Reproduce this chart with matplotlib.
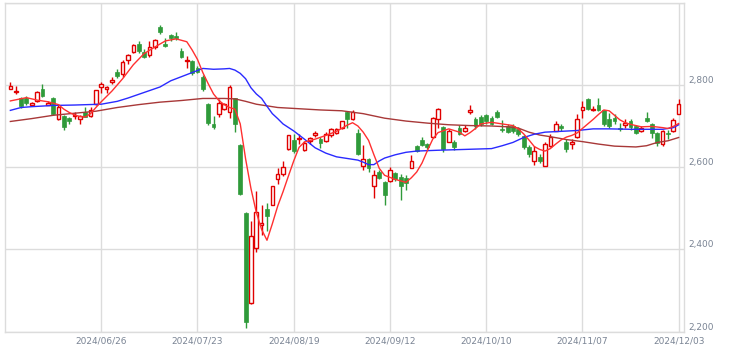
import matplotlib
matplotlib.use("Agg")
import matplotlib.pyplot as plt
import numpy as np

# daily candles (index 0 = first visible day)
opens = [2791, 2783, 2769, 2767, 2750, 2760, 2789, 2752, 2768, 2716,
         2724, 2720, 2724, 2718, 2734, 2724, 2753, 2794, 2791, 2808,
         2832, 2826, 2860, 2879, 2899, 2879, 2872, 2891, 2940, 2899,
         2921, 2920, 2882, 2857, 2858, 2840, 2820, 2754, 2706, 2730,
         2741, 2733, 2767, 2654, 2489, 2269, 2402, 2460, 2497, 2509,
         2570, 2582, 2643, 2665, 2668, 2641, 2663, 2678, 2669, 2663,
         2678, 2682, 2694, 2733, 2716, 2684, 2602, 2619, 2554, 2588,
         2563, 2567, 2585, 2576, 2573, 2598, 2651, 2666, 2655, 2673,
         2716, 2697, 2661, 2661, 2694, 2687, 2734, 2716, 2722, 2727,
         2720, 2734, 2693, 2700, 2700, 2692, 2675, 2649, 2614, 2624,
         2602, 2651, 2689, 2700, 2662, 2655, 2673, 2739, 2765, 2740,
         2751, 2738, 2716, 2720, 2695, 2703, 2712, 2699, 2688, 2720,
         2704, 2683, 2655, 2684, 2688, 2729]
highs = [2808, 2797, 2771, 2773, 2758, 2785, 2802, 2760, 2770, 2753,
         2726, 2722, 2734, 2726, 2746, 2746, 2788, 2806, 2797, 2820,
         2838, 2860, 2876, 2899, 2907, 2887, 2906, 2912, 2946, 2913,
         2925, 2928, 2890, 2871, 2861, 2845, 2825, 2757, 2724, 2765,
         2757, 2800, 2769, 2655, 2491, 2470, 2541, 2507, 2513, 2553,
         2598, 2616, 2678, 2680, 2680, 2663, 2673, 2687, 2673, 2685,
         2695, 2695, 2713, 2736, 2738, 2692, 2653, 2622, 2594, 2593,
         2566, 2601, 2589, 2582, 2580, 2630, 2654, 2673, 2658, 2723,
         2744, 2700, 2692, 2666, 2703, 2702, 2751, 2721, 2726, 2730,
         2724, 2740, 2714, 2705, 2705, 2697, 2679, 2653, 2651, 2631,
         2661, 2680, 2711, 2704, 2668, 2668, 2728, 2762, 2767, 2748,
         2769, 2740, 2731, 2728, 2708, 2716, 2716, 2702, 2700, 2733,
         2707, 2685, 2690, 2690, 2719, 2765]
lows = [2789, 2777, 2744, 2750, 2748, 2758, 2770, 2750, 2727, 2714,
        2690, 2706, 2717, 2704, 2721, 2722, 2752, 2781, 2781, 2802,
        2816, 2819, 2850, 2877, 2877, 2865, 2868, 2888, 2924, 2891,
        2906, 2910, 2865, 2842, 2825, 2828, 2786, 2702, 2692, 2722,
        2739, 2719, 2685, 2533, 2208, 2268, 2393, 2436, 2444, 2507,
        2559, 2578, 2642, 2635, 2656, 2639, 2656, 2673, 2647, 2661,
        2673, 2680, 2692, 2696, 2714, 2630, 2592, 2587, 2525, 2570,
        2507, 2564, 2566, 2519, 2545, 2598, 2636, 2651, 2643, 2670,
        2694, 2636, 2660, 2642, 2678, 2685, 2728, 2692, 2700, 2705,
        2702, 2719, 2685, 2683, 2683, 2675, 2643, 2624, 2605, 2611,
        2602, 2648, 2687, 2688, 2637, 2645, 2672, 2719, 2739, 2736,
        2736, 2700, 2696, 2704, 2688, 2696, 2690, 2680, 2685, 2710,
        2670, 2652, 2651, 2669, 2686, 2729]
closes = [2797, 2786, 2748, 2755, 2756, 2783, 2773, 2755, 2730, 2746,
          2698, 2712, 2727, 2724, 2723, 2739, 2787, 2802, 2794, 2811,
          2822, 2856, 2873, 2897, 2883, 2867, 2893, 2909, 2928, 2895,
          2913, 2915, 2867, 2861, 2828, 2832, 2789, 2708, 2698, 2757,
          2753, 2795, 2704, 2535, 2224, 2433, 2490, 2463, 2482, 2553,
          2582, 2600, 2677, 2639, 2671, 2659, 2671, 2684, 2659, 2680,
          2692, 2692, 2711, 2716, 2733, 2633, 2620, 2598, 2580, 2574,
          2531, 2592, 2570, 2555, 2562, 2616, 2639, 2654, 2649, 2720,
          2741, 2645, 2689, 2649, 2681, 2696, 2739, 2700, 2706, 2711,
          2706, 2723, 2690, 2686, 2688, 2680, 2648, 2633, 2638, 2616,
          2657, 2673, 2704, 2696, 2643, 2662, 2716, 2745, 2742, 2742,
          2738, 2704, 2701, 2712, 2693, 2708, 2697, 2682, 2696, 2713,
          2683, 2658, 2688, 2680, 2714, 2753]

date_ticks = [17, 35, 53, 71, 89, 107, 125]
date_labels = ["2024/06/26", "2024/07/23", "2024/08/19", "2024/09/12",
               "2024/10/10", "2024/11/07", "2024/12/03"]
price_ticks = [2200, 2400, 2600, 2800]

# moving average lines, read at sampled candles
ma_short_idx = [0, 3, 5, 7, 9, 10, 11, 12, 13, 14, 15, 16, 17, 19, 21, 23, 25,
                27, 29, 31, 33, 34, 35, 36, 37, 38, 39, 40, 41, 42, 43, 44, 45,
                46, 47, 48, 49, 50, 51, 52, 53, 54, 55, 57, 59, 61, 63, 64, 65,
                66, 67, 68, 69, 70, 72, 74, 75, 76, 77, 78, 79, 80, 82, 84, 85,
                86, 87, 88, 90, 92, 94, 95, 96, 97, 98, 99, 100, 101, 102, 103,
                104, 105, 106, 107, 108, 109, 110, 111, 112, 113, 114, 115, 116,
                118, 120, 122, 123, 124, 125]
ma_short = [2761, 2769, 2763, 2759, 2752, 2741, 2733, 2727, 2723, 2722, 2730,
            2745, 2759, 2785, 2815, 2849, 2876, 2892, 2907, 2912, 2905, 2885,
            2862, 2830, 2803, 2778, 2762, 2752, 2745, 2741, 2705, 2620, 2548,
            2490, 2448, 2422, 2462, 2505, 2540, 2578, 2615, 2648, 2661, 2668,
            2677, 2687, 2702, 2708, 2700, 2685, 2665, 2630, 2597, 2580, 2570,
            2563, 2574, 2588, 2610, 2640, 2668, 2684, 2693, 2685, 2676, 2684,
            2694, 2705, 2709, 2705, 2701, 2693, 2681, 2666, 2650, 2643, 2639,
            2645, 2656, 2666, 2673, 2677, 2683, 2694, 2705, 2716, 2728, 2739,
            2737, 2726, 2715, 2708, 2704, 2698, 2699, 2696, 2694, 2699, 2706]

ma_mid_idx = [0, 2, 4, 8, 12, 17, 20, 22, 24, 26, 28, 30, 32, 34, 36, 38, 40,
              41, 42, 43, 44, 45, 46, 47, 48, 49, 50, 51, 53, 55, 57, 59, 61,
              63, 65, 66, 67, 68, 69, 70, 72, 74, 76, 80, 85, 90, 92, 94, 96,
              98, 100, 103, 106, 109, 112, 116, 120, 122, 124, 125]
ma_mid = [2738, 2745, 2747, 2750, 2751, 2753, 2760, 2768, 2777, 2786, 2795,
          2810, 2820, 2830, 2840, 2838, 2839, 2840, 2836, 2828, 2815, 2793,
          2778, 2767, 2748, 2730, 2718, 2705, 2688, 2668, 2647, 2634, 2625,
          2621, 2617, 2612, 2606, 2606, 2615, 2622, 2630, 2636, 2639, 2641,
          2643, 2645, 2652, 2660, 2672, 2680, 2685, 2687, 2689, 2693, 2693,
          2692, 2692, 2692, 2696, 2703]

ma_long_idx = [0, 4, 8, 12, 16, 20, 24, 28, 32, 36, 40, 42, 44, 46, 48, 50, 54,
               58, 62, 66, 70, 74, 78, 82, 86, 90, 93, 95, 97, 99, 101, 104,
               107, 110, 113, 117, 119, 121, 123, 125]
ma_long = [2711, 2718, 2726, 2731, 2736, 2745, 2752, 2758, 2762, 2767, 2767,
           2766, 2760, 2753, 2749, 2745, 2742, 2739, 2737, 2730, 2719, 2712,
           2707, 2703, 2701, 2700, 2698, 2695, 2685, 2678, 2674, 2667, 2662,
           2656, 2651, 2649, 2652, 2660, 2664, 2672]

up_color = "#e00000"
down_color = "#2f9a3a"
text_color = "#7a8494"
grid_color = "#dcdcdc"

fig = plt.figure(figsize=(7.3, 3.58), dpi=100)
ax = fig.add_axes([0.0073, 0.074, 0.9297, 0.9185])

o = np.array(opens)
h = np.array(highs)
l = np.array(lows)
c = np.array(closes)
x = np.arange(len(o))
up = c >= o

# wicks
ax.vlines(x[up], l[up], h[up], color=up_color, lw=1, zorder=3)
ax.vlines(x[~up], l[~up], h[~up], color=down_color, lw=1, zorder=3)

# bodies: red hollow for rising days, green filled for falling days
body_lo = np.minimum(o, c)
body_h = np.maximum(np.abs(c - o), 1.5)
ax.bar(x[up], body_h[up], bottom=body_lo[up], width=0.68,
       facecolor="white", edgecolor=up_color, linewidth=1, zorder=4)
ax.bar(x[~up], body_h[~up], bottom=body_lo[~up], width=0.72,
       facecolor=down_color, edgecolor=down_color, linewidth=0.5, zorder=4)

ax.plot(ma_long_idx, ma_long, color="#a83838", lw=1, zorder=5)
ax.plot(ma_mid_idx, ma_mid, color="#2a2aff", lw=1, zorder=5)
ax.plot(ma_short_idx, ma_short, color="#ff3030", lw=1, zorder=5)

ax.set_xlim(-0.94, 126.0)
ax.set_ylim(2200, 3000)

ax.set_xticks(date_ticks)
ax.set_xticklabels(date_labels)
ax.yaxis.tick_right()
ax.set_yticks(price_ticks + [3000])
ax.set_yticklabels([f"{v:,}" for v in price_ticks] + [""])
for lab in ax.get_yticklabels():
    lab.set_verticalalignment("bottom")

ax.tick_params(axis="both", length=0, labelsize=6.5, colors=text_color)
ax.tick_params(axis="x", pad=3.5)
ax.tick_params(axis="y", pad=3)
ax.grid(True, color=grid_color, lw=1, zorder=0)
ax.set_axisbelow(True)
for sp in ax.spines.values():
    sp.set_color(grid_color)
    sp.set_linewidth(1)

fig.savefig("out.png", dpi=100)
